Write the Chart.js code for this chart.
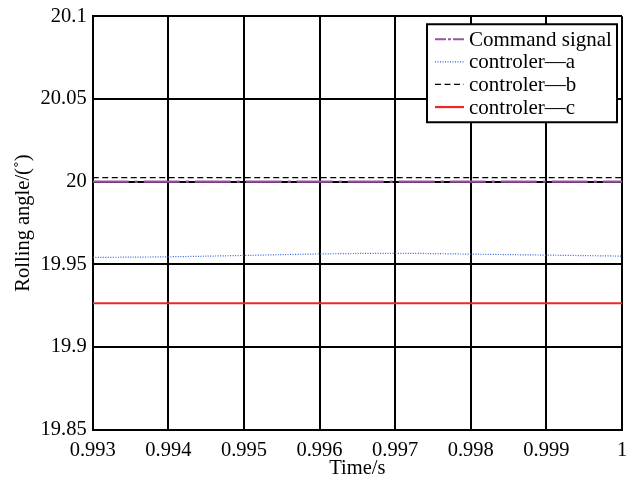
<!DOCTYPE html>
<html>
<head>
<meta charset="utf-8">
<script src="https://cdn.jsdelivr.net/npm/chart.js@4"></script>
<style>
  html, body { margin: 0; padding: 0; background: #fff; }
  #wrap { width: 632px; height: 481px; }
</style>
</head>
<body>
<div id="wrap"><canvas id="myChart" width="632" height="481"></canvas></div>
<script>
const xTicks = [0.993, 0.994, 0.995, 0.996, 0.997, 0.998, 0.999, 1];
const yTicks = [19.85, 19.9, 19.95, 20, 20.05, 20.1];

const timePoints = [0.993, 0.994, 0.995, 0.996, 0.997, 0.998, 0.999, 1];
const commandSignal = [20, 20, 20, 20, 20, 20, 20, 20];
const controlerA = [19.9542, 19.9546, 19.9554, 19.9563, 19.9567, 19.9562, 19.9556, 19.955];
const controlerB = [20.0025, 20.0025, 20.0025, 20.0025, 20.0025, 20.0025, 20.0025, 20.0025];
const controlerC = [19.9265, 19.9265, 19.9265, 19.9265, 19.9265, 19.9265, 19.9265, 19.9265];

const seriesNames = ['Command signal', 'controler\u2014a', 'controler\u2014b', 'controler\u2014c'];

const FONT = '"Liberation Serif", "Times New Roman", serif';

function toXY(ys) {
    return timePoints.map((t, i) => ({ x: t, y: ys[i] }));
}

// legend drawn inside the plot, top right, like the matlab one
const boxLegend = {
    id: 'boxLegend',
    afterDraw(chart) {
        const c = chart.ctx;
        const area = chart.chartArea;
        const sets = chart.data.datasets;
        const w = 190, rowH = 22.6;
        const h = 98;
        const x0 = area.right - 5 - w;
        const y0 = area.top + 8;
        c.save();
        c.fillStyle = '#fff';
        c.fillRect(x0, y0, w, h);
        c.strokeStyle = '#000';
        c.lineWidth = 2;
        c.strokeRect(x0, y0, w, h);
        c.font = '21px ' + FONT;
        c.textBaseline = 'middle';
        sets.forEach((ds, i) => {
            const cy = y0 + 15 + i * rowH;
            c.beginPath();
            c.strokeStyle = ds.borderColor;
            c.lineWidth = ds.borderWidth;
            c.setLineDash(ds.legendDash || ds.borderDash || []);
            c.moveTo(x0 + 8, cy);
            c.lineTo(x0 + 37, cy);
            c.stroke();
            c.setLineDash([]);
            c.fillStyle = '#000';
            c.fillText(ds.label, x0 + 42, cy + 1);
        });
        c.restore();
    }
};

const ctx = document.getElementById('myChart');

new Chart(ctx, {
    type: 'line',
    data: {
        datasets: [
            {
                label: seriesNames[0],
                data: toXY(commandSignal),
                borderColor: 'rgb(155, 80, 165)',
                borderWidth: 2.2,
                borderDash: [36, 6, 3, 6],
                legendDash: [11, 2, 3, 2]
            },
            {
                label: seriesNames[1],
                data: toXY(controlerA),
                borderColor: 'rgb(50, 100, 210)',
                borderWidth: 1.2,
                borderDash: [1, 1.5],
                tension: 0.4
            },
            {
                label: seriesNames[2],
                data: toXY(controlerB),
                borderColor: '#000',
                borderWidth: 1.3,
                borderDash: [6, 3.5]
            },
            {
                label: seriesNames[3],
                data: toXY(controlerC),
                borderColor: 'rgb(235, 40, 40)',
                borderWidth: 2.2
            }
        ]
    },
    options: {
        responsive: false,
        animation: false,
        layout: { padding: { top: 15, right: 10, left: 11, bottom: 0 } },
        elements: { point: { radius: 0 } },
        plugins: {
            legend: { display: false },
            tooltip: { enabled: false }
        },
        scales: {
            x: {
                type: 'linear',
                min: 0.993,
                max: 1,
                afterBuildTicks: (s) => { s.ticks = xTicks.map(v => ({ value: v })); },
                afterFit: (s) => { s.paddingRight = 4; },
                ticks: {
                    color: '#000',
                    font: { family: FONT, size: 20.5 },
                    padding: 9,
                    maxRotation: 0,
                    autoSkip: false,
                    callback: (v) => String(v)
                },
                grid: { color: '#000', lineWidth: 2, drawTicks: false },
                border: { color: '#000', width: 2 },
                title: {
                    display: true,
                    text: 'Time/s',
                    color: '#000',
                    font: { family: FONT, size: 20.5 },
                    padding: { top: -16, bottom: 0 }
                }
            },
            y: {
                min: 19.85,
                max: 20.1,
                afterBuildTicks: (s) => { s.ticks = yTicks.map(v => ({ value: v })); },
                ticks: {
                    color: '#000',
                    font: { family: FONT, size: 20.5, lineHeight: 1 },
                    padding: 6,
                    autoSkip: false,
                    callback: (v) => String(v)
                },
                grid: { color: '#000', lineWidth: 2, drawTicks: false },
                border: { color: '#000', width: 2 },
                title: {
                    display: true,
                    text: 'Rolling angle/(\u02da)',
                    color: '#000',
                    font: { family: FONT, size: 20.5 },
                    padding: { top: 0, bottom: -1 }
                }
            }
        }
    },
    plugins: [boxLegend]
});
</script>
</body>
</html>
